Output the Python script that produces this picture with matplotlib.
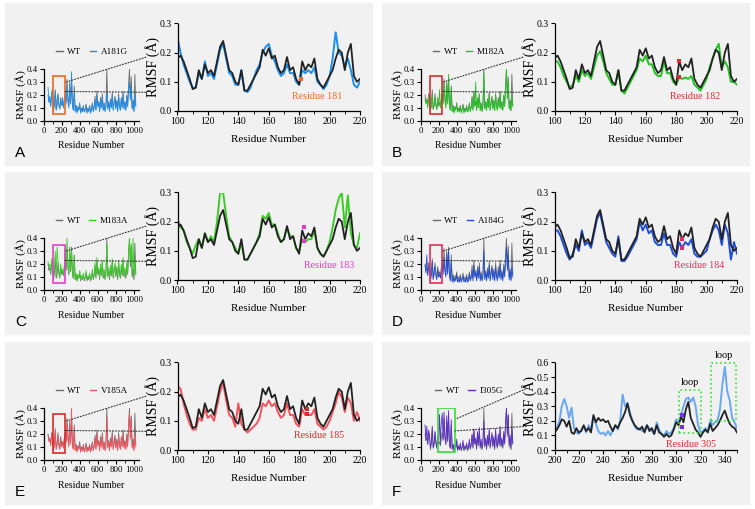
import numpy as np
import matplotlib
matplotlib.use('Agg')
import matplotlib.pyplot as plt
from matplotlib.patches import Rectangle, ConnectionPatch
from matplotlib.ticker import MultipleLocator

plt.rcParams['font.family'] = ['Liberation Serif', 'DejaVu Serif']
plt.rcParams['axes.linewidth'] = 0.9

# ---- data: full-length RMSF (residue 50..1020, every 10 residues) ----
full_start, full_step = 50, 10
wt_full = [0.20, 0.15, 0.17, 0.12, 0.21, 0.18, 0.08, 0.13, 0.24, 0.09, 0.11, 0.21, 0.13, 0.09, 0.18, 0.12,
           0.14, 0.11, 0.17, 0.21, 0.15, 0.32, 0.17, 0.12, 0.30, 0.14, 0.33, 0.12, 0.09, 0.27, 0.08, 0.12,
           0.07, 0.11, 0.09, 0.14, 0.07, 0.10, 0.08, 0.12, 0.07, 0.09, 0.13, 0.07, 0.10, 0.08, 0.12, 0.07,
           0.09, 0.14, 0.08, 0.11, 0.19, 0.09, 0.23, 0.12, 0.15, 0.08, 0.18, 0.11, 0.21, 0.09, 0.14, 0.08,
           0.12, 0.40, 0.10, 0.15, 0.08, 0.17, 0.11, 0.22, 0.09, 0.14, 0.19, 0.10, 0.16, 0.08, 0.21, 0.12,
           0.09, 0.18, 0.11, 0.23, 0.10, 0.15, 0.09, 0.20, 0.12, 0.27, 0.40, 0.18, 0.34, 0.10, 0.16, 0.08,
           0.36, 0.12]
a181g_full = [0.26, 0.14, 0.19, 0.11, 0.22, 0.25, 0.08, 0.12, 0.23, 0.08, 0.17, 0.20, 0.12, 0.10, 0.16, 0.12,
              0.18, 0.10, 0.15, 0.22, 0.13, 0.28, 0.15, 0.10, 0.24, 0.13, 0.38, 0.11, 0.08, 0.22, 0.07, 0.12,
              0.06, 0.10, 0.08, 0.13, 0.06, 0.09, 0.07, 0.11, 0.07, 0.08, 0.12, 0.06, 0.09, 0.07, 0.11, 0.06,
              0.08, 0.13, 0.07, 0.10, 0.16, 0.08, 0.20, 0.11, 0.14, 0.07, 0.16, 0.10, 0.19, 0.08, 0.13, 0.07,
              0.11, 0.22, 0.09, 0.14, 0.07, 0.16, 0.10, 0.20, 0.08, 0.13, 0.18, 0.09, 0.15, 0.07, 0.19, 0.11,
              0.08, 0.17, 0.10, 0.21, 0.09, 0.14, 0.08, 0.19, 0.11, 0.24, 0.30, 0.16, 0.25, 0.09, 0.15, 0.07,
              0.20, 0.11]
m182a_full = [0.17, 0.13, 0.16, 0.10, 0.19, 0.17, 0.08, 0.12, 0.20, 0.09, 0.14, 0.18, 0.12, 0.09, 0.16, 0.11,
              0.24, 0.10, 0.15, 0.19, 0.13, 0.30, 0.16, 0.10, 0.27, 0.13, 0.36, 0.11, 0.08, 0.25, 0.07, 0.11,
              0.06, 0.10, 0.08, 0.13, 0.07, 0.09, 0.07, 0.11, 0.06, 0.09, 0.12, 0.06, 0.09, 0.07, 0.11, 0.07,
              0.08, 0.13, 0.07, 0.10, 0.17, 0.08, 0.21, 0.11, 0.30, 0.08, 0.17, 0.10, 0.20, 0.08, 0.13, 0.07,
              0.11, 0.37, 0.09, 0.14, 0.08, 0.16, 0.10, 0.21, 0.08, 0.13, 0.18, 0.09, 0.15, 0.08, 0.20, 0.11,
              0.08, 0.17, 0.10, 0.22, 0.09, 0.14, 0.08, 0.19, 0.11, 0.25, 0.40, 0.17, 0.30, 0.09, 0.15, 0.08,
              0.20, 0.11]
m183a_full = [0.22, 0.18, 0.20, 0.13, 0.24, 0.21, 0.09, 0.15, 0.30, 0.10, 0.33, 0.23, 0.14, 0.10, 0.20, 0.13,
              0.16, 0.12, 0.19, 0.31, 0.16, 0.41, 0.18, 0.12, 0.33, 0.15, 0.30, 0.13, 0.09, 0.26, 0.08, 0.13,
              0.07, 0.12, 0.09, 0.15, 0.08, 0.11, 0.08, 0.13, 0.08, 0.10, 0.15, 0.08, 0.11, 0.09, 0.13, 0.08,
              0.10, 0.16, 0.09, 0.12, 0.21, 0.10, 0.25, 0.13, 0.17, 0.09, 0.20, 0.12, 0.23, 0.10, 0.16, 0.09,
              0.14, 0.36, 0.11, 0.17, 0.09, 0.19, 0.12, 0.24, 0.10, 0.16, 0.21, 0.11, 0.18, 0.09, 0.23, 0.13,
              0.10, 0.20, 0.12, 0.25, 0.11, 0.17, 0.10, 0.22, 0.13, 0.28, 0.40, 0.20, 0.36, 0.12, 0.40, 0.09,
              0.24, 0.13]
a184g_full = [0.19, 0.13, 0.27, 0.11, 0.18, 0.17, 0.07, 0.12, 0.22, 0.08, 0.15, 0.18, 0.11, 0.08, 0.16, 0.10,
              0.12, 0.09, 0.15, 0.19, 0.12, 0.25, 0.14, 0.10, 0.28, 0.12, 0.30, 0.10, 0.07, 0.22, 0.06, 0.10,
              0.06, 0.09, 0.07, 0.12, 0.06, 0.08, 0.06, 0.10, 0.06, 0.08, 0.11, 0.06, 0.08, 0.06, 0.10, 0.06,
              0.07, 0.12, 0.07, 0.09, 0.15, 0.07, 0.19, 0.10, 0.13, 0.07, 0.15, 0.09, 0.18, 0.07, 0.12, 0.07,
              0.10, 0.30, 0.08, 0.13, 0.07, 0.14, 0.09, 0.19, 0.07, 0.12, 0.17, 0.08, 0.14, 0.07, 0.18, 0.10,
              0.07, 0.15, 0.09, 0.20, 0.08, 0.13, 0.07, 0.17, 0.10, 0.22, 0.33, 0.15, 0.27, 0.08, 0.14, 0.07,
              0.18, 0.10]
v185a_full = [0.19, 0.14, 0.16, 0.11, 0.20, 0.21, 0.07, 0.11, 0.22, 0.08, 0.13, 0.19, 0.11, 0.08, 0.16, 0.10,
              0.13, 0.09, 0.15, 0.19, 0.13, 0.28, 0.15, 0.10, 0.26, 0.12, 0.40, 0.10, 0.08, 0.24, 0.07, 0.11,
              0.06, 0.10, 0.08, 0.12, 0.06, 0.09, 0.07, 0.11, 0.06, 0.08, 0.12, 0.06, 0.09, 0.07, 0.11, 0.06,
              0.08, 0.13, 0.07, 0.10, 0.17, 0.08, 0.21, 0.11, 0.14, 0.07, 0.16, 0.10, 0.19, 0.08, 0.13, 0.07,
              0.11, 0.33, 0.09, 0.14, 0.07, 0.15, 0.10, 0.20, 0.08, 0.12, 0.17, 0.09, 0.14, 0.07, 0.19, 0.11,
              0.08, 0.16, 0.10, 0.21, 0.09, 0.13, 0.08, 0.18, 0.10, 0.24, 0.36, 0.16, 0.32, 0.09, 0.14, 0.07,
              0.19, 0.10]
i305g_full = [0.27, 0.15, 0.26, 0.12, 0.23, 0.19, 0.09, 0.14, 0.26, 0.10, 0.13, 0.22, 0.14, 0.10, 0.19, 0.13,
              0.35, 0.12, 0.29, 0.36, 0.16, 0.37, 0.18, 0.12, 0.34, 0.15, 0.38, 0.12, 0.09, 0.31, 0.09, 0.12,
              0.07, 0.12, 0.09, 0.16, 0.08, 0.11, 0.08, 0.13, 0.08, 0.10, 0.15, 0.08, 0.11, 0.09, 0.13, 0.08,
              0.10, 0.16, 0.09, 0.12, 0.20, 0.10, 0.24, 0.13, 0.17, 0.09, 0.22, 0.12, 0.25, 0.10, 0.16, 0.09,
              0.14, 0.30, 0.11, 0.17, 0.09, 0.19, 0.12, 0.24, 0.10, 0.16, 0.21, 0.11, 0.18, 0.09, 0.24, 0.13,
              0.10, 0.20, 0.12, 0.26, 0.11, 0.17, 0.10, 0.22, 0.13, 0.29, 0.40, 0.20, 0.35, 0.12, 0.19, 0.09,
              0.24, 0.13]

# ---- data: zoomed region 100..220 (every 2 residues) ----
zoom_start, zoom_step = 100, 2
wt_zoom = [0.18, 0.19, 0.17, 0.14, 0.11, 0.075, 0.08, 0.14, 0.11, 0.16, 0.13, 0.14, 0.12, 0.17, 0.22, 0.24,
           0.19, 0.14, 0.13, 0.10, 0.09, 0.14, 0.07, 0.07, 0.09, 0.11, 0.13, 0.15, 0.21, 0.19, 0.215, 0.18,
           0.19, 0.15, 0.13, 0.14, 0.185, 0.14, 0.15, 0.11, 0.09, 0.17, 0.14, 0.16, 0.15, 0.18, 0.11, 0.09,
           0.08, 0.10, 0.12, 0.14, 0.18, 0.21, 0.20, 0.14, 0.20, 0.23, 0.12, 0.10, 0.11]
a181g_zoom = [0.25, 0.20, 0.16, 0.13, 0.10, 0.08, 0.08, 0.13, 0.11, 0.17, 0.12, 0.13, 0.11, 0.16, 0.21, 0.23,
              0.18, 0.13, 0.12, 0.09, 0.09, 0.14, 0.07, 0.065, 0.08, 0.11, 0.14, 0.16, 0.20, 0.22, 0.23, 0.19,
              0.17, 0.14, 0.12, 0.13, 0.16, 0.13, 0.13, 0.10, 0.09, 0.14, 0.13, 0.14, 0.13, 0.15, 0.10, 0.09,
              0.075, 0.09, 0.12, 0.18, 0.27, 0.20, 0.19, 0.15, 0.18, 0.14, 0.09, 0.08, 0.10]
m182a_zoom = [0.17, 0.17, 0.15, 0.12, 0.10, 0.08, 0.09, 0.12, 0.10, 0.14, 0.12, 0.13, 0.11, 0.15, 0.19, 0.205,
              0.17, 0.13, 0.11, 0.09, 0.09, 0.14, 0.07, 0.06, 0.08, 0.10, 0.12, 0.14, 0.18, 0.17, 0.19, 0.16,
              0.16, 0.13, 0.12, 0.12, 0.17, 0.13, 0.13, 0.10, 0.09, 0.115, 0.11, 0.115, 0.11, 0.12, 0.09, 0.08,
              0.07, 0.09, 0.11, 0.15, 0.18, 0.21, 0.23, 0.15, 0.17, 0.15, 0.10, 0.10, 0.09]
m183a_zoom = [0.21, 0.18, 0.17, 0.13, 0.11, 0.09, 0.12, 0.14, 0.11, 0.16, 0.13, 0.15, 0.13, 0.20, 0.30, 0.30,
              0.22, 0.15, 0.13, 0.11, 0.09, 0.13, 0.07, 0.07, 0.09, 0.11, 0.13, 0.16, 0.22, 0.21, 0.23, 0.19,
              0.19, 0.16, 0.13, 0.14, 0.18, 0.15, 0.15, 0.11, 0.10, 0.14, 0.13, 0.14, 0.14, 0.17, 0.11, 0.09,
              0.08, 0.10, 0.13, 0.18, 0.24, 0.28, 0.30, 0.18, 0.29, 0.16, 0.12, 0.11, 0.16]
a184g_zoom = [0.17, 0.17, 0.15, 0.12, 0.09, 0.07, 0.09, 0.12, 0.10, 0.17, 0.12, 0.13, 0.11, 0.16, 0.21, 0.23,
              0.18, 0.13, 0.11, 0.09, 0.08, 0.15, 0.065, 0.065, 0.08, 0.10, 0.12, 0.14, 0.20, 0.17, 0.19, 0.16,
              0.17, 0.13, 0.12, 0.12, 0.16, 0.12, 0.12, 0.09, 0.08, 0.13, 0.11, 0.13, 0.12, 0.14, 0.09, 0.08,
              0.08, 0.09, 0.10, 0.14, 0.17, 0.19, 0.17, 0.12, 0.19, 0.16, 0.07, 0.13, 0.09]
v185a_zoom = [0.22, 0.21, 0.16, 0.12, 0.09, 0.07, 0.07, 0.11, 0.10, 0.14, 0.11, 0.12, 0.10, 0.15, 0.20, 0.23,
              0.17, 0.12, 0.11, 0.08, 0.16, 0.09, 0.07, 0.06, 0.07, 0.08, 0.09, 0.11, 0.16, 0.15, 0.17, 0.15,
              0.16, 0.13, 0.11, 0.12, 0.16, 0.12, 0.12, 0.09, 0.08, 0.14, 0.12, 0.12, 0.12, 0.14, 0.09, 0.08,
              0.07, 0.08, 0.10, 0.13, 0.16, 0.20, 0.18, 0.13, 0.18, 0.16, 0.10, 0.13, 0.10]

# ---- data: panel F zoom 200..350 (every 2 residues) ----
f_start = 200
wt_zoom_f = [0.12, 0.14, 0.17, 0.21, 0.20, 0.16, 0.20, 0.12, 0.11, 0.15, 0.12, 0.13, 0.17, 0.13, 0.15, 0.12,
             0.24, 0.19, 0.22, 0.20, 0.21, 0.19, 0.20, 0.16, 0.13, 0.17, 0.15, 0.19, 0.22, 0.26, 0.32, 0.24,
             0.20, 0.17, 0.15, 0.14, 0.16, 0.12, 0.17, 0.13, 0.15, 0.11, 0.17, 0.12, 0.11, 0.09, 0.11, 0.09,
             0.10, 0.14, 0.19, 0.17, 0.23, 0.19, 0.28, 0.33, 0.22, 0.18, 0.14, 0.12, 0.09, 0.12, 0.14, 0.12,
             0.18, 0.13, 0.15, 0.17, 0.20, 0.24, 0.27, 0.22, 0.18, 0.16, 0.15, 0.12]
i305g_zoom = [0.13, 0.15, 0.20, 0.30, 0.35, 0.30, 0.22, 0.29, 0.15, 0.12, 0.11, 0.14, 0.16, 0.12, 0.17, 0.14,
              0.23, 0.18, 0.13, 0.11, 0.12, 0.10, 0.13, 0.10, 0.14, 0.17, 0.14, 0.20, 0.38, 0.30, 0.32, 0.26,
              0.20, 0.16, 0.14, 0.15, 0.13, 0.14, 0.17, 0.15, 0.13, 0.11, 0.19, 0.14, 0.11, 0.10, 0.13, 0.11,
              0.12, 0.15, 0.21, 0.18, 0.24, 0.30, 0.35, 0.36, 0.33, 0.36, 0.30, 0.17, 0.12, 0.13, 0.15, 0.13,
              0.20, 0.17, 0.19, 0.20, 0.28, 0.45, 0.57, 0.40, 0.34, 0.22, 0.19, 0.15]

# mutated residue and its RMSF values (WT / mutant)
sites = [181, 182, 183, 184, 185, 305]
site_vals = [[0.11], [0.17, 0.115], [0.18, 0.135], [0.14, 0.11], [0.14, 0.125], [0.24, 0.16]]
letters = ['A', 'B', 'C', 'D', 'E', 'F']
mut_names = ['A181G', 'M182A', 'M183A', 'A184G', 'V185A', 'I305G']
mut_full = [a181g_full, m182a_full, m183a_full, a184g_full, v185a_full, i305g_full]
mut_zoom = [a181g_zoom, m182a_zoom, m183a_zoom, a184g_zoom, v185a_zoom, i305g_zoom]
line_cols = ['#1b8ef0', '#22c322', '#3ccc28', '#1f4ed8', '#f2545e', '#6aa8f2']
inset_cols = ['#1b8ef0', '#22c322', '#3ccc28', '#1f4ed8', '#f2545e', '#5a2fcc']
mark_cols = ['#ec6a22', '#d22f2f', '#e23ccc', '#e2305c', '#e02828', '#f02030']
box_cols = ['#ec6a22', '#d83030', '#e040c8', '#e2305c', '#e02828', '#36dd36']
loops = [(302, 320, 0.12, 0.41), (329, 349.5, 0.20, 0.60)]

W, H = 755, 509
fig = plt.figure(figsize=(W / 100, H / 100), dpi=100)

col_x0 = [5, 382]
row_y0 = [3, 172, 342]
pw, ph = 367, 162


def frac(x, y, w, h):
    # pixel box (top-left origin) -> figure fraction
    return [x / W, 1 - (y + h) / H, w / W, h / H]


def style(ax, fs):
    for s in ['top', 'right']:
        ax.spines[s].set_visible(False)
    ax.set_facecolor('none')
    ax.tick_params(direction='out', length=3, width=0.8, labelsize=fs, pad=1.5)
    ax.tick_params(which='minor', direction='out', length=2, width=0.6)
    ax.tick_params(axis='y', pad=0.8)


for i in range(6):
    col, row = i % 2, i // 2
    x0, y0 = col_x0[col], row_y0[row]
    fig.add_artist(Rectangle((x0 / W, 1 - (y0 + ph) / H), pw / W, ph / H,
                             transform=fig.transFigure, color='#f1f1f1', zorder=0))

    # small full-length plot
    ax_in = fig.add_axes(frac(x0 + 38.5, y0 + 66, 95, 52))
    style(ax_in, 6.3)
    xf = np.arange(full_start, full_start + full_step * len(wt_full), full_step)
    xm = np.arange(full_start, full_start + full_step * len(mut_full[i]), full_step)
    ax_in.plot(xf, wt_full, color='#6a6a6a', lw=0.6, label='WT', zorder=2)
    ax_in.plot(xm, mut_full[i], color=inset_cols[i], lw=0.6, label=mut_names[i], zorder=3)
    ax_in.set_xlim(0, 1050)
    ax_in.set_ylim(0, 0.4)
    ax_in.xaxis.set_major_locator(MultipleLocator(200))
    ax_in.xaxis.set_minor_locator(MultipleLocator(100))
    ax_in.yaxis.set_major_locator(MultipleLocator(0.1))
    ax_in.yaxis.set_major_formatter(plt.FormatStrFormatter('%.1f'))
    ax_in.set_xlabel('Residue Number', fontsize=7, labelpad=4.5)
    ax_in.set_ylabel('RMSF (Å)', fontsize=8.2, labelpad=0.5)
    leg = ax_in.legend(loc='center', bbox_to_anchor=(0.51, 1.33), ncol=2, frameon=False,
                       fontsize=6.6, handlelength=0.7, handletextpad=0.5, columnspacing=0.9)
    for h in leg.legend_handles:
        h.set_linewidth(1.0)

    # big zoomed plot
    ax = fig.add_axes(frac(x0 + 172.5, y0 + 20.5, 182.5, 87.5))
    style(ax, 7)
    if i < 5:
        xz = np.arange(zoom_start, zoom_start + zoom_step * len(wt_zoom), zoom_step)
        xzm = np.arange(zoom_start, zoom_start + zoom_step * len(mut_zoom[i]), zoom_step)
        ax.plot(xzm, mut_zoom[i], color=line_cols[i], lw=1.4, zorder=2)
        ax.plot(xz, wt_zoom, color='#222222', lw=1.3, zorder=3)
        ax.set_xlim(100, 220)
        ax.set_ylim(0, 0.3)
        rect = (100, 0.055, 140, 0.295)
        start_hi, start_lo = (250, 0.30), (240, 0.227)
        end_hi, end_lo = (-0.165, 0.62), (-0.165, 0.214)
        txt_x, txt_y = [192, 192.5, 200, 195, 193][i], 0.05
    else:
        xz = np.arange(f_start, f_start + zoom_step * len(wt_zoom_f), zoom_step)
        xzm = np.arange(f_start, f_start + zoom_step * len(mut_zoom[i]), zoom_step)
        ax.plot(xzm, mut_zoom[i], color=line_cols[i], lw=1.4, zorder=2)
        ax.plot(xz, wt_zoom_f, color='#222222', lw=1.3, zorder=3)
        ax.set_xlim(200, 350)
        ax.set_ylim(0, 0.6)
        for (lx0, lx1, ly0, ly1) in loops:
            ax.add_patch(Rectangle((lx0, ly0), lx1 - lx0, ly1 - ly0, fill=False, ls=':',
                                   lw=1.2, ec='#33dd33', zorder=4, clip_on=False))
            ax.text((lx0 + lx1) / 2, ly1 + 0.02, 'loop', ha='center', va='bottom',
                    fontsize=7.5, clip_on=False)
        rect = (195, 0.065, 185, 0.335)
        start_hi, start_lo = (405, 0.32), (380, 0.224)
        end_hi, end_lo = (-0.155, 0.70), (-0.155, 0.27)
        txt_x, txt_y = 312, 0.04
    ax.xaxis.set_major_locator(MultipleLocator(20))
    ax.xaxis.set_minor_locator(MultipleLocator(10))
    ax.yaxis.set_major_locator(MultipleLocator(0.1))
    ax.yaxis.set_major_formatter(plt.FormatStrFormatter('%.1f'))
    ax.set_xlabel('Residue Number', fontsize=8, labelpad=6)
    ax.set_ylabel('RMSF (Å)', fontsize=10, labelpad=0)
    ax.scatter([sites[i]] * len(site_vals[i]), site_vals[i], s=6, marker='s',
               color=mark_cols[i] if i < 5 else '#7a2cf0', zorder=5, linewidths=0)
    ax.text(txt_x, txt_y, 'Residue %d' % sites[i], color=mark_cols[i], fontsize=7.2,
            ha='center', va='center')

    # box on the small plot and dotted connectors
    ax_in.add_patch(Rectangle((rect[0], rect[1]), rect[2], rect[3], fill=False,
                              ec=box_cols[i], lw=1.2, zorder=5))
    for sa, eb in [(start_hi, end_hi), (start_lo, end_lo)]:
        fig.add_artist(ConnectionPatch(xyA=sa, coordsA=ax_in.transData, xyB=eb,
                                       coordsB=ax.transAxes, ls=':', lw=0.8, color='#333333'))

    fig.text((x0 + 10) / W, 1 - (y0 + 150) / H, letters[i], fontsize=11,
             family=['Liberation Sans', 'DejaVu Sans'], ha='left', va='center')

plt.savefig('out.png', dpi=100)
